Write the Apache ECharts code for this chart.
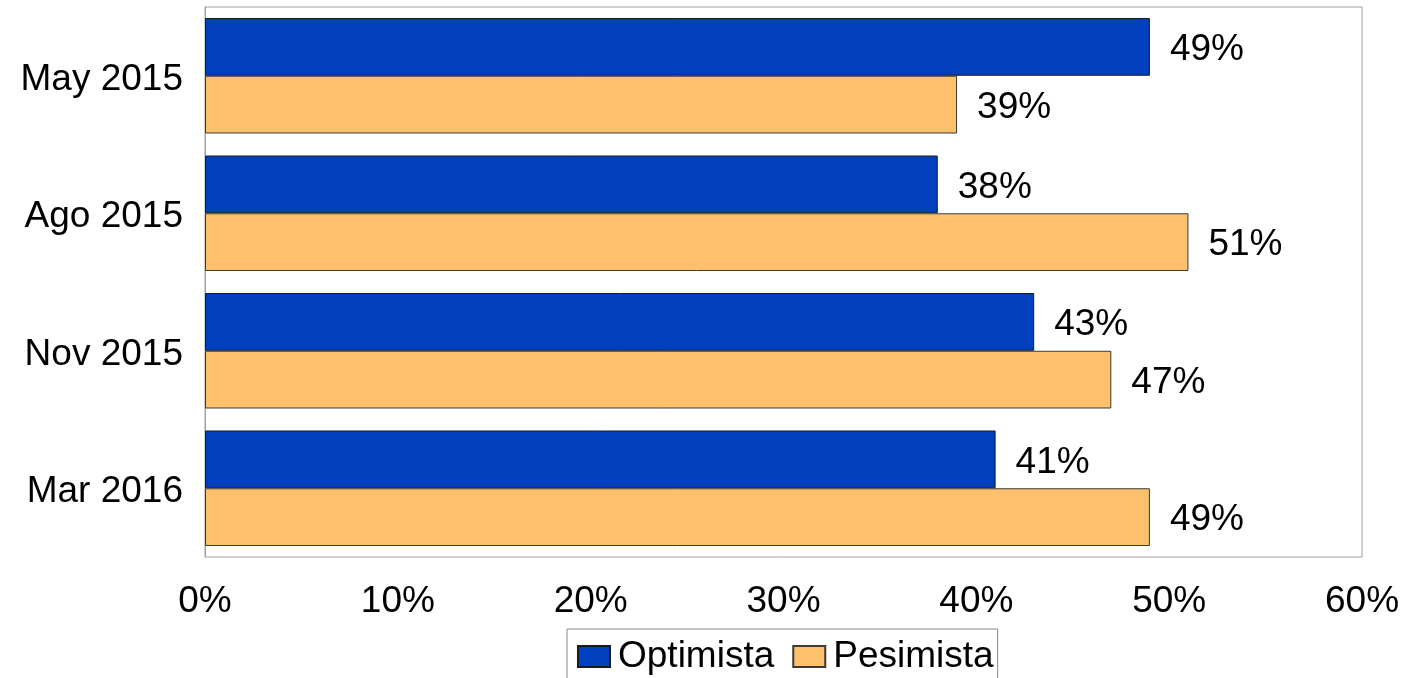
<!DOCTYPE html>
<html>
<head>
<meta charset="utf-8">
<script src="https://cdn.jsdelivr.net/npm/echarts@6/dist/echarts.min.js"></script>
<style>html,body{margin:0;padding:0;background:#fff}#c{width:1406px;height:678px}</style>
</head>
<body>
<div id="c"></div>
<script>
var categories = ['May 2015', 'Ago 2015', 'Nov 2015', 'Mar 2016'];
var optimista = [49, 38, 43, 41];
var pesimista = [39, 51, 47, 49];
var seriesNames = ['Optimista', 'Pesimista'];
var xTicks = [0, 10, 20, 30, 40, 50, 60];

var FONT = '"Liberation Sans", Arial, sans-serif';
var FS = 37;
var chart = echarts.init(document.getElementById('c'), null, {renderer: 'canvas'});
function lbl() {
  return {show: true, position: 'right', distance: 20, color: '#000', fontSize: FS, fontFamily: FONT,
    offset: [0, 3],
    formatter: function (p) { return p.value + '%'; }};
}
chart.setOption({
  animation: false,
  backgroundColor: '#fff',
  grid: {left: 205, right: 44, top: 7, bottom: 121, show: true, borderColor: '#a0a0a0', borderWidth: 1},
  legend: {
    left: 567, top: 629, orient: 'horizontal',
    data: seriesNames,
    itemWidth: 32, itemHeight: 21, itemGap: 18,
    padding: [9, 4, 9, 10],
    borderColor: '#8a8a8a', borderWidth: 1,
    textStyle: {fontSize: FS, fontFamily: FONT, color: '#000', padding: [0, 0, 0, 3]},
    icon: 'rect'
  },
  xAxis: {
    type: 'value', min: xTicks[0], max: xTicks[xTicks.length - 1], interval: 10,
    axisLine: {show: false}, axisTick: {show: false}, splitLine: {show: false},
    axisLabel: {margin: 26, fontSize: FS, fontFamily: FONT, color: '#000', formatter: '{value}%'}
  },
  yAxis: {
    type: 'category', data: categories, inverse: true,
    axisLine: {show: true, lineStyle: {color: '#a0a0a0'}}, axisTick: {show: false},
    axisLabel: {margin: 22, color: '#000',
      formatter: function (v) { return '{a|' + v + '}'; },
      rich: {a: {fontSize: FS, fontFamily: FONT, color: '#000', padding: [8, 0, 0, 0]}}}
  },
  series: [
    {name: seriesNames[0], type: 'bar', data: optimista, barGap: '0%', barCategoryGap: '16%',
      itemStyle: {color: '#0040BF', borderColor: '#1a1a1a', borderWidth: 1}, label: lbl()},
    {name: seriesNames[1], type: 'bar', data: pesimista, barGap: '0%', barCategoryGap: '16%',
      itemStyle: {color: '#FDC06B', borderColor: '#3a3a3a', borderWidth: 1}, label: lbl()}
  ]
});
</script>
</body>
</html>
